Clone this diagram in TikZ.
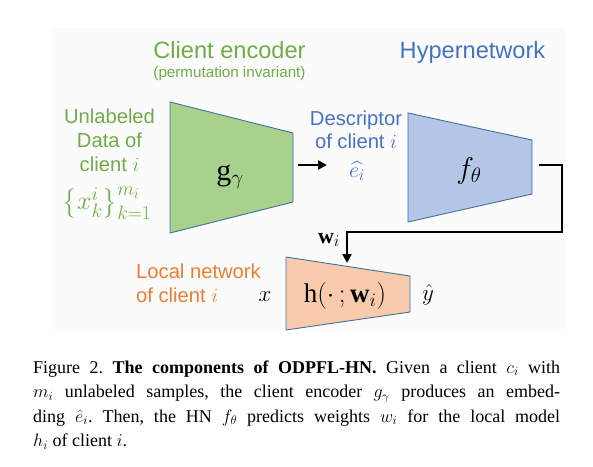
\RequirePackage{fix-cm}
\documentclass[tikz,border=0pt]{standalone}
\usepackage{amsmath}
\usepackage{fontspec}
\setmainfont{Liberation Serif}
\newfontfamily\diagfont{Liberation Sans}
\usetikzlibrary{arrows.meta}
\DeclareMathSizes{22}{22}{16.5}{13}
\DeclareMathSizes{26}{26}{19.5}{15}
\DeclareMathSizes{27}{27}{19}{15}
\DeclareMathSizes{30}{30}{21}{16}
\DeclareMathSizes{23}{23}{17}{13}
\definecolor{bgc}{HTML}{FBFBFB}
\definecolor{gtext}{HTML}{70AD47}
\definecolor{btext}{HTML}{4472C4}
\definecolor{otext}{HTML}{ED7D31}
\definecolor{gfill}{HTML}{A9D18E}
\definecolor{bfill}{HTML}{B4C7E7}
\definecolor{ofill}{HTML}{F8CBAD}
\definecolor{edge}{HTML}{41719C}
\tikzset{
  trap/.style={draw=edge, line width=0.9pt, line join=miter},
  conn/.style={draw=black, line width=2.4pt},
  arr/.style={conn, -{Triangle[length=9pt,width=9pt]}},
  title/.style={font=\diagfont\fontsize{23.6}{28}\selectfont, inner sep=0pt, anchor=base},
  sub/.style={font=\diagfont\fontsize{15.2}{18}\selectfont, inner sep=0pt, anchor=base},
  lab/.style={font=\diagfont\fontsize{20.2}{24}\selectfont, inner sep=0pt, anchor=base},
  mth/.style={font=\fontsize{27}{30}\selectfont, inner sep=0pt, anchor=base},
  bmth/.style={font=\fontsize{30}{34}\selectfont, inner sep=0pt, anchor=base},
  smth/.style={font=\fontsize{22}{26}\selectfont, inner sep=0pt, anchor=base},
  xmth/.style={font=\fontsize{23}{26}\selectfont, inner sep=0pt, anchor=base},
  setmth/.style={font=\fontsize{26}{30}\selectfont, inner sep=0pt, anchor=center},
}
\begin{document}
\begin{tikzpicture}[x=1pt,y=-1pt]
\useasboundingbox (0,0) rectangle (593,466);
\fill[bgc] (52,28) rectangle (565,330);

% titles
\node[title, text=gtext] (tce) at (229.5,58) {Client encoder};
\node[sub, text=gtext] (tpi) at (229.5,77) {(permutation invariant)};
\node[title, text=btext] (thn) at (472.5,58) {Hypernetwork};

% unlabeled data label
\node[lab, text=gtext] (u1) at (109.5,123) {Unlabeled};
\node[lab, text=gtext] (u2) at (109.5,147) {Data of};
\node[lab, text=gtext] (u3) at (109.5,171) {client $i$};
\node[setmth, text=gtext] (ux) at (107,203) {$\left\{x_k^i\right\}_{k=1}^{m_i}$};

% encoder trapezoid
\draw[trap, fill=gfill] (170,102) -- (293,133) -- (293,202) -- (170,233) -- cycle;
\node[bmth] (g) at (230,180) {$\mathrm{g}_\gamma$};
\coordinate (gout) at (298,165);
\coordinate (ein) at (327,165);
\draw[arr] (gout) -- (ein);

% descriptor label
\node[lab, text=btext] (d1) at (356,125) {Descriptor};
\node[lab, text=btext] (d2) at (356,148) {of client $i$};
\node[smth, text=btext] (d3) at (357,177) {$\widehat{e_i}$};

% hypernetwork trapezoid
\draw[trap, fill=bfill] (408,113) -- (532,140) -- (532,194) -- (408,222) -- cycle;
\node[bmth] (f) at (469,178) {$f_\theta$};

% weights connector
\coordinate (fout) at (539,165);
\coordinate (c1) at (562,165);
\coordinate (c2) at (562,232);
\coordinate (c3) at (347,232);
\coordinate (hin) at (347,263);
\draw[arr, line join=miter] (fout) -- (c1) -- (c2) -- (c3) -- (hin);
\node[smth] (w) at (329,243) {$\mathbf{w}_i$};

% local network label
\node[lab, text=otext, anchor=base west] (l1) at (136,278) {Local network};
\node[lab, text=otext, anchor=base west] (l2) at (136,302) {of client $i$};

% local network trapezoid
\draw[trap, fill=ofill] (286,257) -- (410,276) -- (410,312) -- (286,330) -- cycle;
\node[mth] (h) at (345,302) {$\mathrm{h}(\cdot\,;\mathbf{w}_i)$};
\node[xmth] (xin) at (265,301) {$x$};
\node[xmth] (yout) at (428,300) {$\hat{y}$};

% caption
\node[anchor=base west, inner sep=0pt, text width=527pt, align=justify,
      font=\fontsize{18}{24.5}\selectfont\frenchspacing] (cap) at (33,373)
 {Figure 2. \textbf{The components of ODPFL-HN.} Given a client $c_i$ with\linebreak
  $m_i$ unlabeled samples, the client encoder $g_\gamma$ produces an embed-\linebreak
  ding $\hat{e}_i$. Then, the HN $f_\theta$ predicts weights $w_i$ for the local model\linebreak
  $h_i$ of client $i$.};
\end{tikzpicture}
\end{document}
